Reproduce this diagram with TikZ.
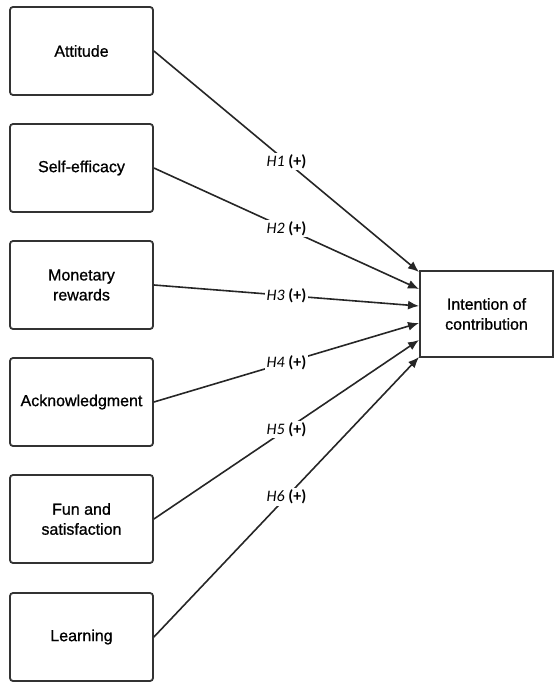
\documentclass[tikz,border=0pt]{standalone}
\usepackage{fontspec}
\setmainfont{Liberation Sans}
\newfontfamily\boxfont[FakeBold=0.9]{Liberation Sans}
\newfontfamily\hypfont{Carlito}
\usetikzlibrary{positioning, arrows.meta}

\begin{document}
\begin{tikzpicture}[x=1pt, y=-1pt]
    \tikzset{
        construct/.style={rectangle, rounded corners=3pt, draw=black!80,
            line width=1.8pt, fill=white, minimum width=143pt,
            minimum height=88pt, align=center,
            font=\boxfont\fontsize{16}{20}\selectfont},
        outcome/.style={rectangle, draw=black!80, line width=1.8pt,
            fill=white, minimum width=133pt, minimum height=86pt,
            align=center, font=\boxfont\fontsize{16}{20}\selectfont},
        hyp/.style={fill=white, inner sep=1.5pt,
            font=\hypfont\fontsize{16}{16}\selectfont},
        path/.style={line width=1.6pt, draw=black!85,
            -{Latex[length=11pt, width=9pt]}}
    }
    \useasboundingbox (0,0) rectangle (554,682);
    \node[construct] (attitude) at (81.5,51) {Attitude};
    \node[construct] (selfeff) at (81.5,168) {Self-efficacy};
    \node[construct] (money) at (81.5,285) {Monetary\\rewards};
    \node[construct] (acknow) at (81.5,402) {Acknowledgment};
    \node[construct] (fun) at (81.5,519) {Fun and\\satisfaction};
    \node[construct] (learn) at (81.5,637) {Learning};
    \node[outcome] (intent) at (486.5,314) {Intention of\\contribution};
    % arrow heads on the left side of the outcome box
    \coordinate (in1) at (419,272);
    \coordinate (in2) at (419,289);
    \coordinate (in3) at (419,306);
    \coordinate (in4) at (419,323);
    \coordinate (in5) at (419,340);
    \coordinate (in6) at (419,357);
    \draw[path] (attitude.east) -- node[hyp] {\textit{H1} \textbf{(+)}} (in1);
    \draw[path] (selfeff.east) -- node[hyp] {\textit{H2} \textbf{(+)}} (in2);
    \draw[path] (money.east) -- node[hyp] {\textit{H3} \textbf{(+)}} (in3);
    \draw[path] (acknow.east) -- node[hyp] {\textit{H4} \textbf{(+)}} (in4);
    \draw[path] (fun.east) -- node[hyp] {\textit{H5} \textbf{(+)}} (in5);
    \draw[path] (learn.east) -- node[hyp] {\textit{H6} \textbf{(+)}} (in6);
\end{tikzpicture}
\end{document}
